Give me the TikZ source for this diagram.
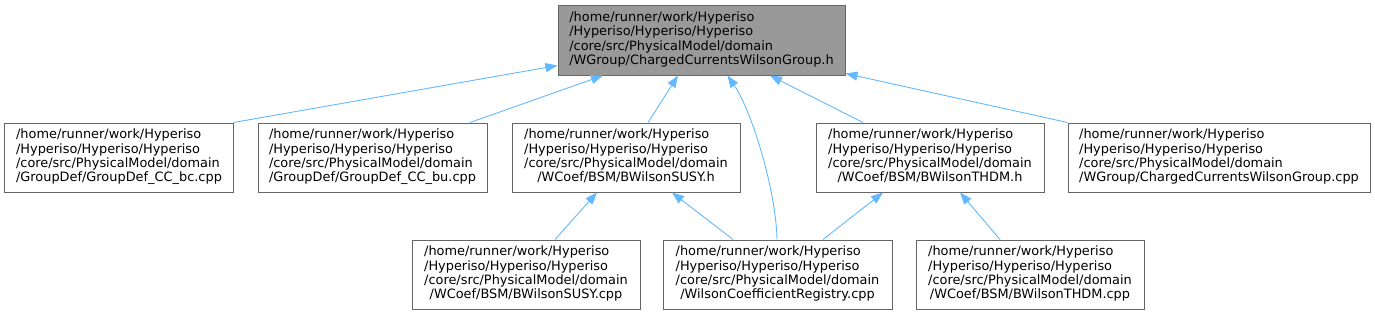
\documentclass[tikz,border=0pt]{standalone}
\usepackage{fontspec}
\setmainfont{DejaVu Sans}
\usetikzlibrary{arrows.meta}
\definecolor{edgeblue}{HTML}{63B8FF}
\definecolor{boxborder}{HTML}{666666}
\definecolor{topfill}{HTML}{999999}
\newcommand{\flbl}[4]{\begin{tabular}{@{}l@{}}#1\\#2\\#3\\\multicolumn{1}{@{}c@{}}{#4}\end{tabular}}
\begin{document}
\begin{tikzpicture}[x=1bp,y=-1bp,
  filebox/.style={draw=boxborder, line width=1bp, fill=white, inner sep=0pt, minimum height=69bp,
    font=\fontsize{12.9bp}{14.4bp}\selectfont},
  edge/.style={draw=edgeblue, line width=0.9bp, {Triangle[length=12bp,width=9bp]}-},
]
\useasboundingbox (0,0) rectangle (1375,315);
\renewcommand{\arraystretch}{1}
\setlength{\tabcolsep}{0pt}
\node[filebox, fill=topfill, minimum width=287bp, minimum height=70bp] (top) at (701.5,40)
  {\flbl{/home/runner/work/Hyperiso}{/Hyperiso/Hyperiso/Hyperiso}{/core/src/PhysicalModel/domain}{/WGroup/ChargedCurrentsWilsonGroup.h}};
\node[filebox, minimum width=228bp] (A) at (119,157.5)
  {\flbl{/home/runner/work/Hyperiso}{/Hyperiso/Hyperiso/Hyperiso}{/core/src/PhysicalModel/domain}{/GroupDef/GroupDef\_CC\_bc.cpp}};
\node[filebox, minimum width=229bp] (B) at (372.5,157.5)
  {\flbl{/home/runner/work/Hyperiso}{/Hyperiso/Hyperiso/Hyperiso}{/core/src/PhysicalModel/domain}{/GroupDef/GroupDef\_CC\_bu.cpp}};
\node[filebox, minimum width=228bp] (C) at (626,157.5)
  {\flbl{/home/runner/work/Hyperiso}{/Hyperiso/Hyperiso/Hyperiso}{/core/src/PhysicalModel/domain}{/WCoef/BSM/BWilsonSUSY.h}};
\node[filebox, minimum width=228bp] (D) at (930,157.5)
  {\flbl{/home/runner/work/Hyperiso}{/Hyperiso/Hyperiso/Hyperiso}{/core/src/PhysicalModel/domain}{/WCoef/BSM/BWilsonTHDM.h}};
\node[filebox, minimum width=302bp] (E) at (1219,157.5)
  {\flbl{/home/runner/work/Hyperiso}{/Hyperiso/Hyperiso/Hyperiso}{/core/src/PhysicalModel/domain}{/WGroup/ChargedCurrentsWilsonGroup.cpp}};
\node[filebox, minimum width=228bp] (F) at (526,274.5)
  {\flbl{/home/runner/work/Hyperiso}{/Hyperiso/Hyperiso/Hyperiso}{/core/src/PhysicalModel/domain}{/WCoef/BSM/BWilsonSUSY.cpp}};
\node[filebox, minimum width=229bp] (G) at (777.5,274.5)
  {\flbl{/home/runner/work/Hyperiso}{/Hyperiso/Hyperiso/Hyperiso}{/core/src/PhysicalModel/domain}{/WilsonCoefficientRegistry.cpp}};
\node[filebox, minimum width=228bp] (H) at (1030,274.5)
  {\flbl{/home/runner/work/Hyperiso}{/Hyperiso/Hyperiso/Hyperiso}{/core/src/PhysicalModel/domain}{/WCoef/BSM/BWilsonTHDM.cpp}};
% edges (arrow at the included file)
\draw[edge] ([yshift=10bp]top.south west) -- (A.north east);
\draw[edge] ([xshift=-98.5bp]top.south) -- ([xshift=97.5bp]B.north);
\draw[edge] ([xshift=-23.5bp]top.south) -- ([xshift=22bp]C.north);
\draw[edge] ([xshift=26bp]top.south) .. controls ++(24,35) and ++(-1,-50) .. ([xshift=-0.5bp]G.north);
\draw[edge] ([xshift=68.5bp]top.south) -- ([xshift=-67bp]D.north);
\draw[edge] ([yshift=2bp]top.south east) -- (E.north west);
\draw[edge] ([xshift=-29bp]C.south) -- ([xshift=29bp]F.north);
\draw[edge] ([xshift=46bp]C.south) -- ([xshift=-44.5bp]G.north);
\draw[edge] ([xshift=-47bp]D.south) -- ([xshift=45.5bp]G.north);
\draw[edge] ([xshift=30bp]D.south) -- ([xshift=-30bp]H.north);
\end{tikzpicture}
\end{document}
